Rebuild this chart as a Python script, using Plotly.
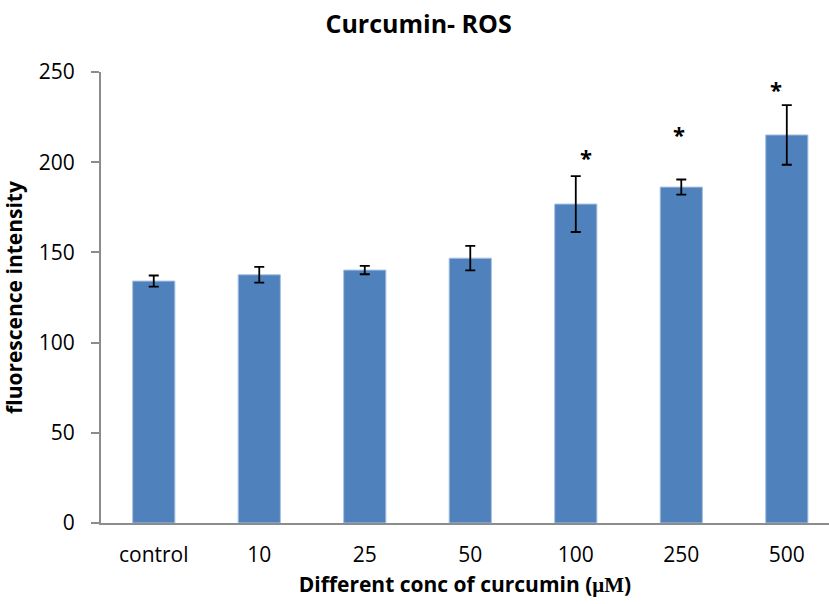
import plotly.graph_objects as go

categories = ["control", "10", "25", "50", "100", "250", "500"]
means = [134.1, 137.6, 140.2, 146.8, 176.8, 186.2, 215.1]
errors = [3.1, 4.4, 2.3, 6.8, 15.5, 4.2, 16.5]
star_labels = ["", "", "", "", "*", "*", "*"]
star_y = [None, None, None, None, 204.2, 216.7, 241.5]
star_xshift = [0, 0, 0, 0, 10, -2, -11]
y_ticks = [0, 50, 100, 150, 200, 250]

FONT = "Open Sans"

fig = go.Figure()
fig.add_trace(go.Bar(
    x=categories, y=means,
    marker=dict(color="#4F81BD", line=dict(color="#A9C0E0", width=1)),
    error_y=dict(type="data", array=errors, visible=True, color="black",
                 thickness=1.8, width=5),
    showlegend=False,
))

for i, (s, yv, xs) in enumerate(zip(star_labels, star_y, star_xshift)):
    if s:
        fig.add_annotation(x=i, y=yv, text="<b>" + s + "</b>", showarrow=False,
                           xshift=xs, yshift=-2,
                           font=dict(family=FONT, size=22, color="black"))

fig.update_layout(
    width=829, height=604,
    margin=dict(l=101, r=0, t=72, b=81),
    plot_bgcolor="white", paper_bgcolor="white",
    bargap=0.6,
    title=dict(text="<b>Curcumin- ROS</b>", x=0.505, xanchor="center",
               y=1 - 24 / 604, yanchor="middle",
               font=dict(family=FONT, size=25, color="black")),
    font=dict(family=FONT, color="black"),
)

fig.update_xaxes(
    type="category", range=[-0.5, 6.4],
    showline=True, linecolor="#8C8C8C", linewidth=2,
    ticks="", tickfont=dict(family=FONT, size=21, color="black"),
    ticklabelstandoff=12,
    title=dict(text="<b>Different conc of curcumin (<span style=\"font-family:'Liberation Serif'\">μM</span>)</b>",
               font=dict(family=FONT, size=21, color="black"), standoff=10),
    showgrid=False,
)
fig.update_yaxes(
    range=[0, 250], tickvals=y_ticks,
    showline=True, linecolor="#8C8C8C", linewidth=2,
    ticks="outside", ticklen=8, tickcolor="#8C8C8C", tickwidth=2,
    tickfont=dict(family=FONT, size=21, color="black"),
    ticklabelstandoff=12,
    title=dict(text="<b>fluorescence intensity</b>",
               font=dict(family=FONT, size=21, color="black"), standoff=12),
    showgrid=False, zeroline=False,
)

fig.write_html("out.html")
